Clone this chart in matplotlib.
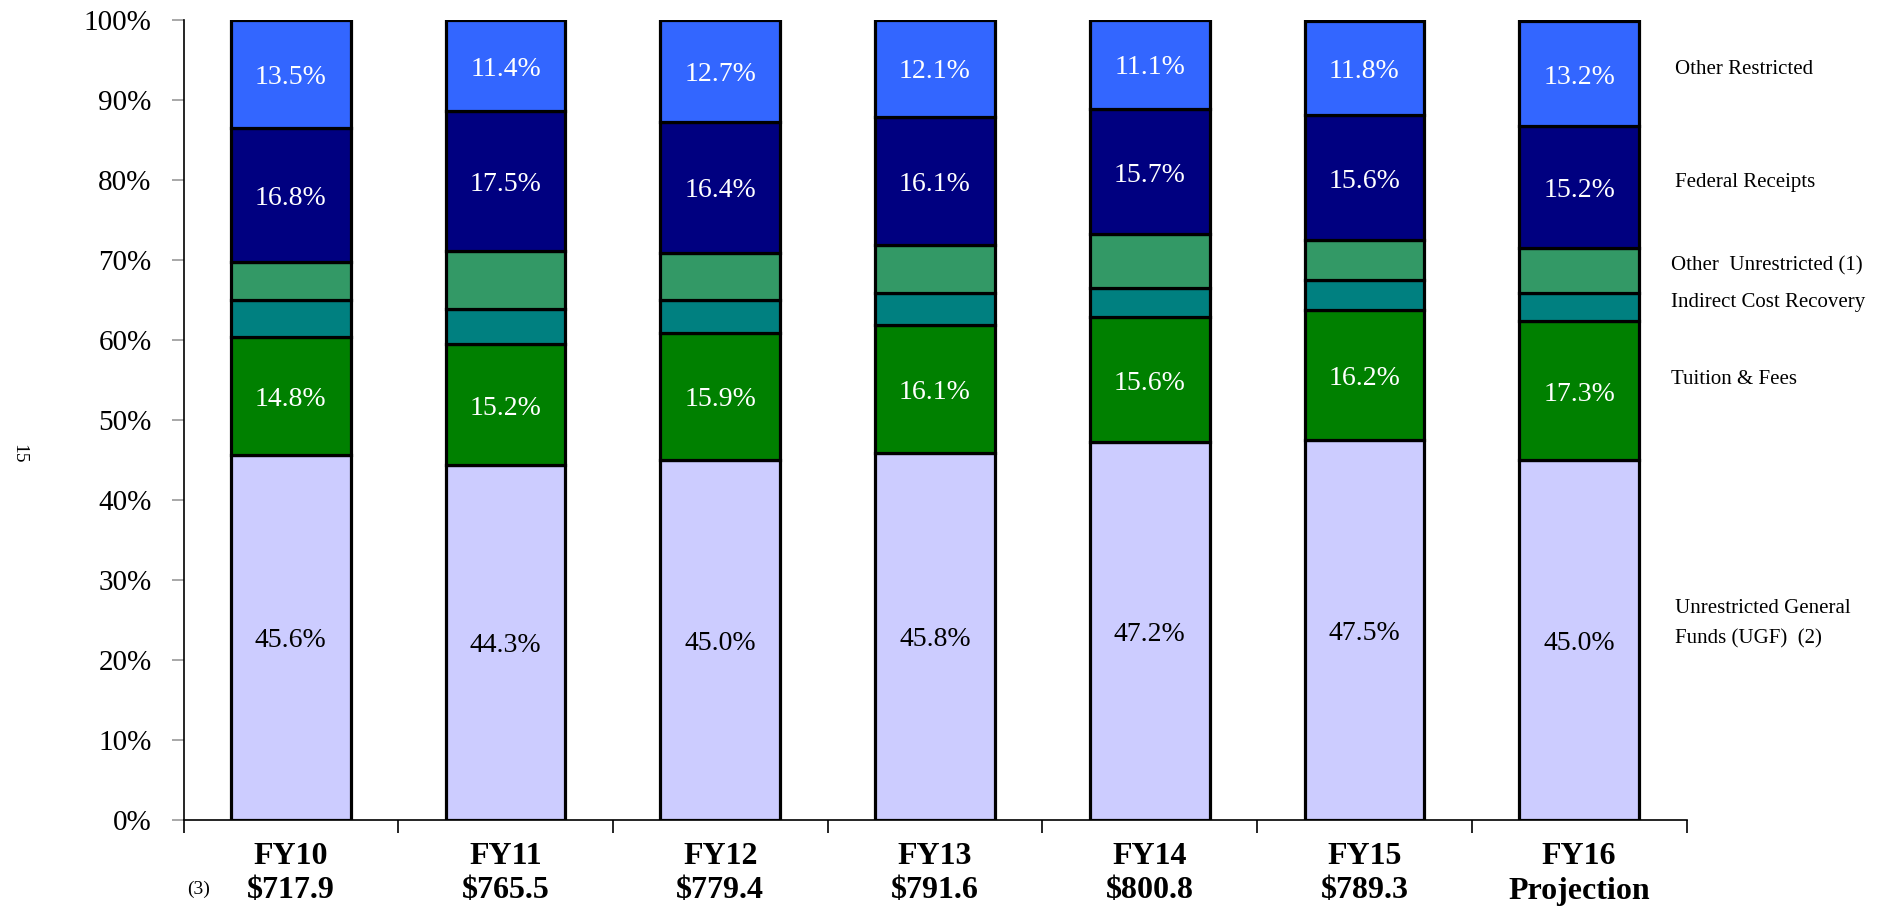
import matplotlib
matplotlib.use("Agg")
import matplotlib.pyplot as plt
import matplotlib.transforms as mtransforms
import numpy as np

plt.rcParams['font.family'] = ['Liberation Serif', 'DejaVu Serif']

years = ["FY10", "FY11", "FY12", "FY13", "FY14", "FY15", "FY16"]
totals = ["$717.9", "$765.5", "$779.4", "$791.6", "$800.8", "$789.3", "Projection"]

ugf = [45.6, 44.3, 45.0, 45.8, 47.2, 47.5, 45.0]
tuition = [14.8, 15.2, 15.9, 16.1, 15.6, 16.2, 17.3]
indirect = [4.6, 4.3, 4.1, 4.0, 3.7, 3.8, 3.6]
other_unres = [4.7, 7.3, 5.9, 5.9, 6.7, 5.0, 5.6]
federal = [16.8, 17.5, 16.4, 16.1, 15.7, 15.6, 15.2]
other_res = [13.5, 11.4, 12.7, 12.1, 11.1, 11.8, 13.2]

series = [
    ("Unrestricted General\nFunds (UGF)  (2)", ugf, "#CCCCFF", "black", True),
    ("Tuition & Fees", tuition, "#008000", "white", True),
    ("Indirect Cost Recovery", indirect, "#008080", "white", False),
    ("Other  Unrestricted (1)", other_unres, "#339966", "white", False),
    ("Federal Receipts", federal, "#000080", "white", True),
    ("Other Restricted", other_res, "#3366FF", "white", True),
]

W, H = 1885, 909
fig = plt.figure(figsize=(W / 100, H / 100), dpi=100)
ax = fig.add_axes([183.5 / W, 1 - 819.5 / H, (1686.5 - 183.5) / W, (819.5 - 20) / H])

label_trans = mtransforms.offset_copy(ax.transData, fig=fig, x=0, y=-3.5, units="dots")

x = np.arange(len(years))
bottom = np.zeros(len(years))
for name, vals, color, tcolor, show in series:
    vals = np.array(vals)
    ax.bar(x, vals, width=0.557, bottom=bottom, color=color, edgecolor="black",
           linewidth=2.3, zorder=3)
    if show:
        for xi, b, v in zip(x, bottom, vals):
            ax.text(xi, b + v / 2, f"{v:.1f}%", ha="center", va="center",
                    color=tcolor, fontsize=20, zorder=4, transform=label_trans)
    bottom = bottom + vals

ax.set_xlim(-0.5, len(years) - 0.5)
ax.set_ylim(0, 100)
ax.set_yticks(np.arange(0, 101, 10))
ax.set_yticklabels([f"{v}%" for v in range(0, 101, 10)], fontsize=21)
ax.tick_params(axis="y", length=9, width=1.2, color="#999999", pad=14)
ax.set_xticks(np.arange(-0.5, len(years), 1.0))
ax.set_xticklabels([])
ax.tick_params(axis="x", length=9, width=1.2, color="black", direction="out")

for s in ["top", "right"]:
    ax.spines[s].set_visible(False)
ax.spines["left"].set_linewidth(1.2)
ax.spines["bottom"].set_linewidth(1.2)

trans = mtransforms.blended_transform_factory(ax.transData, ax.transAxes)
for xi, yr, tot in zip(x, years, totals):
    ax.text(xi, -(856 - 819.5) / 799.5, yr, transform=trans, ha="center", va="center",
            fontsize=23, fontweight="bold", clip_on=False)
    ax.text(xi, -(891 - 819.5) / 799.5, tot, transform=trans, ha="center", va="center",
            fontsize=23, fontweight="bold", clip_on=False)

fig.text(199 / W, 1 - 889 / H, "(3)", ha="center", va="center", fontsize=14)
fig.text(19 / W, 1 - 454 / H, "15", ha="center", va="center", fontsize=14, rotation=-90)

label_pos = {
    "Other Restricted": (1675, 69),
    "Federal Receipts": (1675, 182),
    "Other  Unrestricted (1)": (1671, 266),
    "Indirect Cost Recovery": (1671, 303),
    "Tuition & Fees": (1671, 379),
    "Unrestricted General\nFunds (UGF)  (2)": (1675, 624),
}
for name, (px, py) in label_pos.items():
    fig.text(px / W, 1 - py / H, name, ha="left", va="center", fontsize=15,
             linespacing=1.8)

fig.savefig("out.png", dpi=100)
